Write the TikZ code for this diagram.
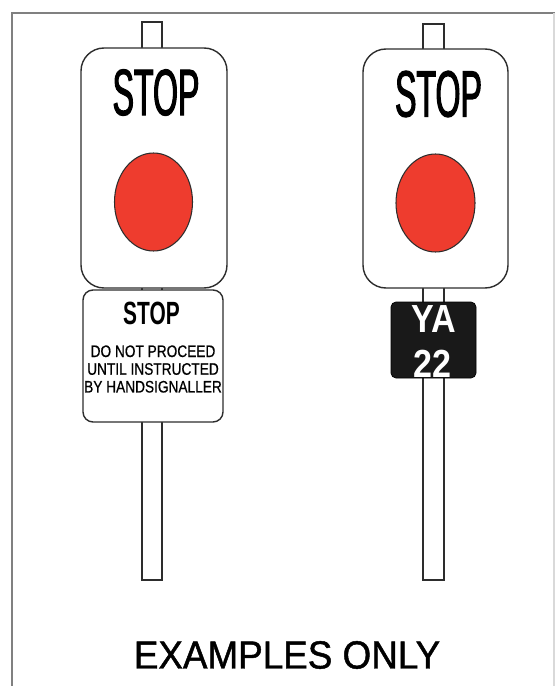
\documentclass[tikz,border=0pt]{standalone}
\usepackage{fontspec}
\setmainfont{Liberation Sans}
\newfontfamily\stopfont[FakeStretch=0.49,FakeBold=1.6]{Liberation Sans}
\newfontfamily\platefont[FakeStretch=0.65]{Liberation Sans Bold}
\newfontfamily\noticefont[FakeStretch=0.82,FakeBold=0.6]{Liberation Sans}
\newfontfamily\idfont[FakeStretch=0.87]{Liberation Sans Bold}
\newfontfamily\capfont[FakeStretch=0.94,FakeBold=1.2]{Liberation Sans}
\usepackage{tikz}
\definecolor{lampred}{RGB}{238,60,46}
\definecolor{edge}{RGB}{45,45,45}
\tikzset{
  pole/.style={draw=edge,fill=white,line width=0.6pt},
  board/.style={draw=edge,fill=white,line width=0.8pt,rounded corners=0.46cm},
  lamp/.style={draw=edge,fill=lampred,line width=0.6pt},
  txt/.style={inner sep=0pt}
}

\begin{document}
\begin{tikzpicture}[x=0.02cm,y=-0.02cm]
\useasboundingbox (0,0) rectangle (555,686);
\draw[gray,line width=0.8pt] (555,13) -- (12,13) -- (12,686);
\draw[gray!30,line width=0.6pt] (554,13) -- (554,686);
% left signal
\draw[pole] (142,22) rectangle (162,580);
\draw[board] (81,48) rectangle (227,288);
\draw[lamp] (153.5,202) ellipse (39 and 49);
\node[txt,font=\stopfont\fontsize{37.3}{40}\selectfont] (stopL) at (156,92.5) {STOP};
\draw[board,rounded corners=0.2cm] (83,290) rectangle (223,422);
\node[txt,font=\platefont\fontsize{18.3}{20}\selectfont] (plate) at (151.5,313.5) {STOP};
\node[txt,align=center,font=\noticefont\fontsize{9.5}{10.1}\selectfont] (notice) at (153,369) {DO NOT PROCEED\\UNTIL INSTRUCTED\\BY HANDSIGNALLER};
% right signal
\draw[pole] (423,24) rectangle (444,580);
\draw[board] (363,49) rectangle (508,288);
\draw[lamp] (435.5,203) ellipse (39.5 and 49);
\node[txt,font=\stopfont\fontsize{37.3}{40}\selectfont] (stopR) at (438.5,94) {STOP};
\draw[fill=black!90,draw=black,rounded corners=0.1cm] (391,302) rectangle (476,378);
\node[txt,text=white,font=\idfont\fontsize{22.3}{24}\selectfont] (sigA) at (433.5,319) {YA};
\node[txt,text=white,font=\idfont\fontsize{22.3}{24}\selectfont] (sigB) at (432.5,363.5) {22};
\node[txt,font=\capfont\fontsize{22.3}{24}\selectfont] (caption) at (287,655) {EXAMPLES ONLY};
\end{tikzpicture}
\end{document}
